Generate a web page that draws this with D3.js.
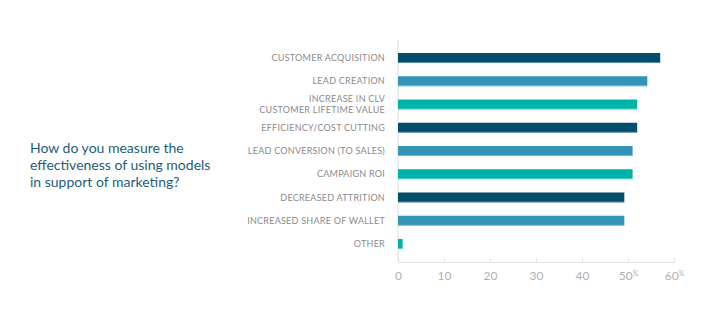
<!DOCTYPE html>
<meta charset="utf-8">
<style>
body{ margin:0; background:#fff; }
.cat{ font-family:Lato, sans-serif; font-size:9px; fill:#8a8a8a; letter-spacing:0.25px; }
.tick text{ font-family:Lato, sans-serif; font-size:12px; fill:#b0b0b0; }
.title{ font-family:Lato, sans-serif; font-size:14px; fill:#1f5c7a; }
</style>
<body>
<script src="https://cdn.jsdelivr.net/npm/d3@7"></script>
<script>

var width = 720,
    height = 330;

var categories = ["CUSTOMER ACQUISITION","LEAD CREATION","INCREASE IN CLV|CUSTOMER LIFETIME VALUE",
    "EFFICIENCY/COST CUTTING","LEAD CONVERSION (TO SALES)","CAMPAIGN ROI","DECREASED ATTRITION",
    "INCREASED SHARE OF WALLET","OTHER"];
var values = [57, 54.2, 52, 52, 51, 51, 49.2, 49.2, 1];
var barColors = ["#024e6e","#3394b7","#00b3a8"];
var tickValues = [0,10,20,30,40,50,60];
var titleLines = ["How do you measure the","effectiveness of using models","in support of marketing?"];

var svg = d3.select("body").append("svg")
    .attr("width", width)
    .attr("height", height);

var x = d3.scaleLinear().domain([0,60]).range([398,674]);
var y = d3.scaleBand().domain(d3.range(categories.length)).range([46.5,255.5]).paddingInner(0.57).paddingOuter(0.28);

// vertical axis line
svg.append("line")
    .attr("x1",398).attr("x2",398).attr("y1",40).attr("y2",262)
    .attr("stroke","#e2e2e2").attr("stroke-width",1.2);

// x axis
var xAxis = svg.append("g")
    .attr("transform","translate(0,262)")
    .call(d3.axisBottom(x).tickValues(tickValues).tickSize(-4).tickPadding(9)
        .tickFormat(function(d){ return d; }));
xAxis.select(".domain").attr("stroke","#e2e2e2");
xAxis.selectAll(".tick line").attr("stroke","#e2e2e2");
xAxis.selectAll(".tick text").filter(function(d){ return d>=50; })
    .append("tspan").attr("font-size","7px").attr("dy","-4").text("%");

var bars = svg.append("g").selectAll("g")
    .data(values)
    .enter().append("g");

bars.append("rect")
    .attr("x", x(0))
    .attr("y", function(d,i){ return y(i); })
    .attr("width", function(d){ return x(d)-x(0); })
    .attr("height", y.bandwidth())
    .attr("fill", function(d,i){ return barColors[i%3]; });

bars.append("rect")
    .attr("x", x(0))
    .attr("y", function(d,i){ return y(i)+y.bandwidth()-1; })
    .attr("width", function(d){ return x(d)-x(0); })
    .attr("height", 1)
    .attr("fill", "#ffffff").attr("opacity",0.35);

// category labels
svg.append("g").selectAll("text")
    .data(categories)
    .enter().append("text")
    .attr("class","cat")
    .attr("text-anchor","end")
    .attr("x",385)
    .attr("y", function(d,i){ return y(i)+y.bandwidth()/2; })
    .each(function(d){
        var parts = d.split("|");
        var t = d3.select(this);
        parts.forEach(function(p,j){
            t.append("tspan").attr("x",385)
                .attr("dy", j==0 ? (parts.length==1 ? "0.35em" : (0.35-0.6)+"em") : "1.2em")
                .text(p);
        });
    });

// title
svg.append("text")
    .attr("class","title")
    .selectAll("tspan")
    .data(titleLines)
    .enter().append("tspan")
    .attr("x",30)
    .attr("y", function(d,i){ return 153 + i*16.8; })
    .text(function(d){ return d; });

</script>
